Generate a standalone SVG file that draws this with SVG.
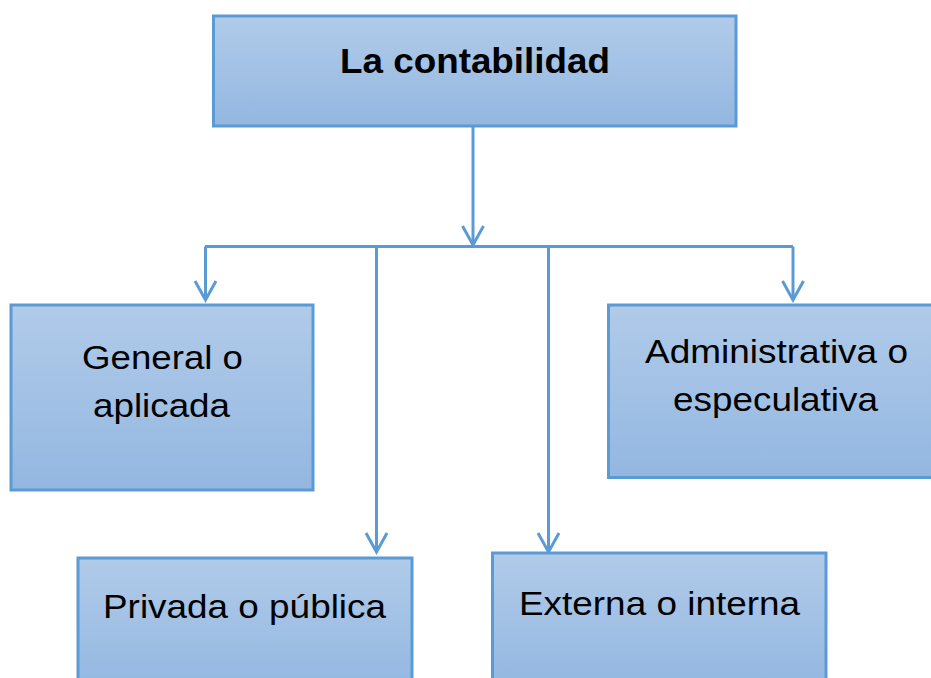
<svg xmlns="http://www.w3.org/2000/svg" width="931" height="678" viewBox="0 0 931 678">
<defs>
<linearGradient id="boxFill" x1="0" y1="0" x2="0" y2="1">
<stop offset="0" stop-color="#B1CBE9"/>
<stop offset="1" stop-color="#93B7E1"/>
</linearGradient>
<marker id="arrow" markerUnits="userSpaceOnUse" markerWidth="24" markerHeight="24" viewBox="0 0 24 24" refX="21" refY="12" orient="auto" overflow="visible">
<path d="M2,1.5 L21,12 L2,22.5" fill="none" stroke="#5B9BD5" stroke-width="3"/>
</marker>
<style>
.box { fill: url(#boxFill); stroke: #5B9BD5; stroke-width: 3; }
.conn { fill: none; stroke: #5B9BD5; stroke-width: 3; }
.lbl { font-family: "Liberation Sans", Arial, sans-serif; font-size: 34px; fill: #000; text-anchor: middle; }
.title { font-family: "Liberation Sans", Arial, sans-serif; font-size: 35px; font-weight: bold; fill: #000; text-anchor: middle; }
</style>
</defs>

<g id="connectors">
<path class="conn" d="M473,126 V245" marker-end="url(#arrow)"/>
<path class="conn" d="M205,246.5 H793"/>
<path class="conn" d="M205.5,246.5 V300" marker-end="url(#arrow)"/>
<path class="conn" d="M376.5,246.5 V552" marker-end="url(#arrow)"/>
<path class="conn" d="M548.5,246.5 V552" marker-end="url(#arrow)"/>
<path class="conn" d="M793,246.5 V300" marker-end="url(#arrow)"/>
</g>

<g id="node-contabilidad">
<rect class="box" x="213.5" y="16" width="522.5" height="110"/>
<text class="title" x="475" y="73" textLength="270" lengthAdjust="spacingAndGlyphs">La contabilidad</text>
</g>

<g id="node-general">
<rect class="box" x="11" y="305" width="302" height="185"/>
<text class="lbl" x="162.5" y="369" textLength="161" lengthAdjust="spacingAndGlyphs">General o</text>
<text class="lbl" x="161.5" y="417" textLength="137" lengthAdjust="spacingAndGlyphs">aplicada</text>
</g>

<g id="node-administrativa">
<rect class="box" x="608.5" y="305" width="324" height="172.5"/>
<text class="lbl" x="776.5" y="363" textLength="263" lengthAdjust="spacingAndGlyphs">Administrativa o</text>
<text class="lbl" x="775.5" y="411" textLength="205" lengthAdjust="spacingAndGlyphs">especulativa</text>
</g>

<g id="node-privada">
<rect class="box" x="78" y="558" width="334" height="130"/>
<text class="lbl" x="244.5" y="618" textLength="283" lengthAdjust="spacingAndGlyphs">Privada o pública</text>
</g>

<g id="node-externa">
<rect class="box" x="492.5" y="553" width="333.5" height="135"/>
<text class="lbl" x="659.5" y="615" textLength="281" lengthAdjust="spacingAndGlyphs">Externa o interna</text>
</g>
</svg>
